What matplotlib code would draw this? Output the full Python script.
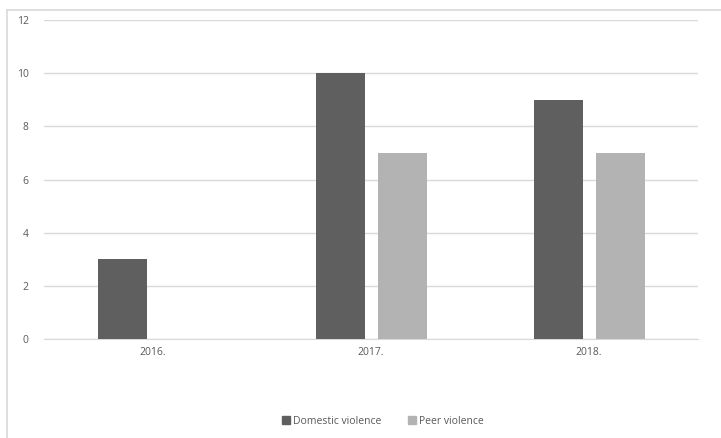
import matplotlib
matplotlib.use("Agg")
import matplotlib.pyplot as plt
import numpy as np
from matplotlib.lines import Line2D
from matplotlib.patches import Rectangle

categories = ["2016.", "2017.", "2018."]
domestic = [3, 10, 9]
peer = [0, 7, 7]
series_names = ["Domestic violence", "Peer violence"]
colors = ["#5f5f5f", "#b3b3b3"]
yticks = [0, 2, 4, 6, 8, 10, 12]

W, H = 721, 438
fig = plt.figure(figsize=(W/100, H/100), dpi=100)
plt.rcParams['font.family'] = ['Open Sans', 'DejaVu Sans']

# outer frame (left and top visible)
fig.add_artist(Line2D([7/W, 7/W], [0, 1 - 10/H], color="#d9d9d9", lw=1.2))
fig.add_artist(Line2D([7/W, 1], [1 - 10/H, 1 - 10/H], color="#d9d9d9", lw=1.2))

ax = fig.add_axes([44/W, 1 - 339/H, (698-44)/W, (339-20)/H])
x = np.arange(len(categories))
bw = 49/218
off = 31/218
ax.bar(x - off, domestic, bw, color=colors[0], zorder=3)
ax.bar(x + off, peer, bw, color=colors[1], zorder=3)
ax.set_xlim(-0.5, 2.5)
ax.set_ylim(0, 12)
ax.set_yticks(yticks)
ax.set_yticklabels([str(v) for v in yticks])
ax.set_xticks(x)
ax.set_xticklabels(categories)
ax.grid(axis="y", color="#d9d9d9", lw=1, zorder=0)
for s in ["top", "right", "left"]:
    ax.spines[s].set_visible(False)
ax.spines["bottom"].set_color("#d9d9d9")
ax.tick_params(axis="both", length=0, labelsize=7.5, labelcolor="#595959")
ax.tick_params(axis="y", pad=11)
ax.tick_params(axis="x", pad=6)

handles = [Rectangle((0, 0), 1, 1, color=c) for c in colors]
leg = fig.legend(handles, series_names, loc="center", bbox_to_anchor=(383/W, 1 - 421/H),
                 ncol=2, frameon=False, fontsize=7.5, handlelength=0.8, handleheight=0.8,
                 handletextpad=0.3, columnspacing=2.5)
for t in leg.get_texts():
    t.set_color("#595959")

fig.savefig("out.png", dpi=100)
